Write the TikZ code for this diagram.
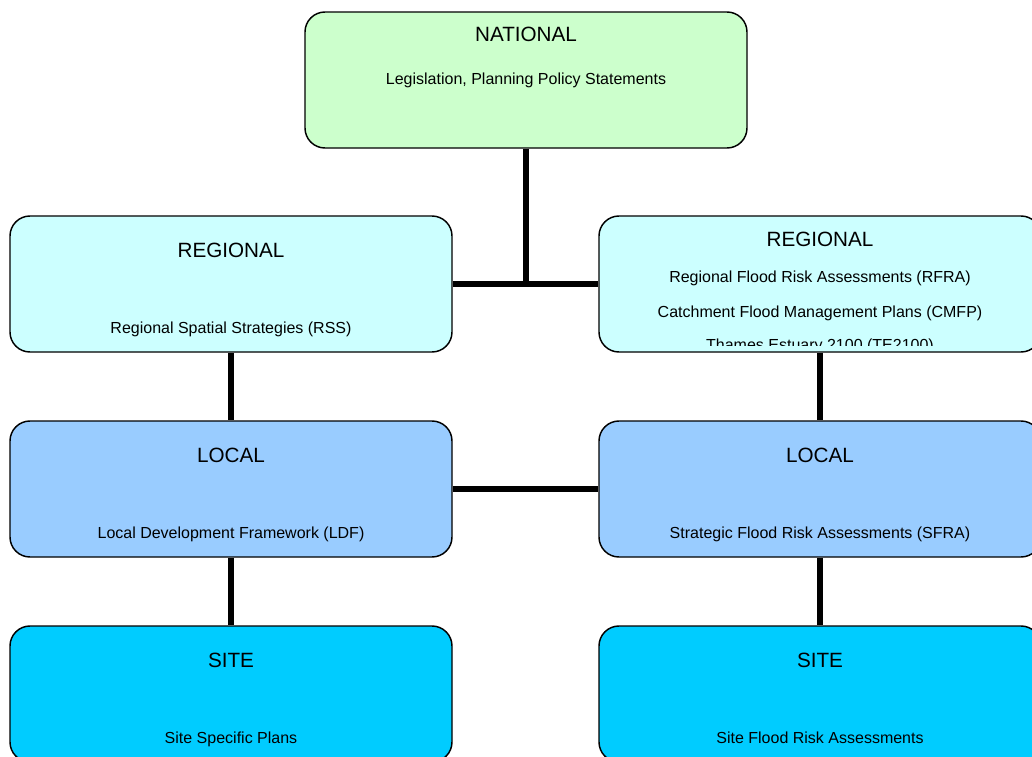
\documentclass[tikz,border=0pt]{standalone}
\usepackage{fontspec}
\setmainfont{Liberation Sans}
\definecolor{natgreen}{HTML}{CCFFCC}
\definecolor{regcyan}{HTML}{CCFFFF}
\definecolor{locblue}{HTML}{99CCFF}
\definecolor{siteblue}{HTML}{00CCFF}
\tikzset{
  box/.style={draw=black, line width=1.1pt, rounded corners=15pt,
    minimum width=331.5pt, minimum height=102pt, inner sep=0pt},
  title/.style={anchor=base, font=\fontsize{15.5}{18}\selectfont, inner sep=0pt},
  sub/.style={anchor=base, font=\fontsize{12}{14}\selectfont, inner sep=0pt},
  link/.style={line width=3.9pt, line cap=butt}
}
\begin{document}
\begin{tikzpicture}[x=0.75pt,y=-0.75pt]
\useasboundingbox (0,0) rectangle (1032,757);
\begin{scope}
\clip (0,0) rectangle (1032,757);
% connectors (drawn first, under boxes)
\node[box, fill=natgreen] (natl) at (526,80) {};
\node[box, fill=regcyan] (regL) at (231,284) {};
\node[box, fill=regcyan] (regR) at (820,284) {};
\node[box, fill=locblue] (locL) at (231,489) {};
\node[box, fill=locblue] (locR) at (820,489) {};
\node[box, fill=siteblue] (siteL) at (231,694) {};
\node[box, fill=siteblue] (siteR) at (820,694) {};

\draw[link] (natl.south) -- (natl.south |- regL.east);
\draw[link] (regL.east) -- (regR.west);
\draw[link] (regL.south) -- (locL.north);
\draw[link] (regR.south) -- (locR.north);
\draw[link] (locL.east) -- (locR.west);
\draw[link] (locL.south) -- (siteL.north);
\draw[link] (locR.south) -- (siteR.north);

\node[title] (natT) at (526,41) {NATIONAL};
\node[sub] (natS) at (526,84) {Legislation, Planning Policy Statements};

\node[title] (regLT) at (231,257) {REGIONAL};
\node[sub] (regLS) at (231,333) {Regional Spatial Strategies (RSS)};

\node[title] (regRT) at (820,246) {REGIONAL};
\node[sub] (regRS1) at (820,282) {Regional Flood Risk Assessments (RFRA)};
\node[sub] (regRS2) at (820,317) {Catchment Flood Management Plans (CMFP)};
\begin{scope}
\clip (600,216) rectangle (1040,345);
\node[sub] (regRS3) at (820,350) {Thames Estuary 2100 (TE2100)};
\end{scope}

\node[title] (locLT) at (231,462) {LOCAL};
\node[sub] (locLS) at (231,538) {Local Development Framework (LDF)};
\node[title] (locRT) at (820,462) {LOCAL};
\node[sub] (locRS) at (820,538) {Strategic Flood Risk Assessments (SFRA)};

\node[title] (siteLT) at (231,667) {SITE};
\node[sub] (siteLS) at (231,743) {Site Specific Plans};
\node[title] (siteRT) at (820,667) {SITE};
\node[sub] (siteRS) at (820,743) {Site Flood Risk Assessments};
\end{scope}
\end{tikzpicture}
\end{document}
